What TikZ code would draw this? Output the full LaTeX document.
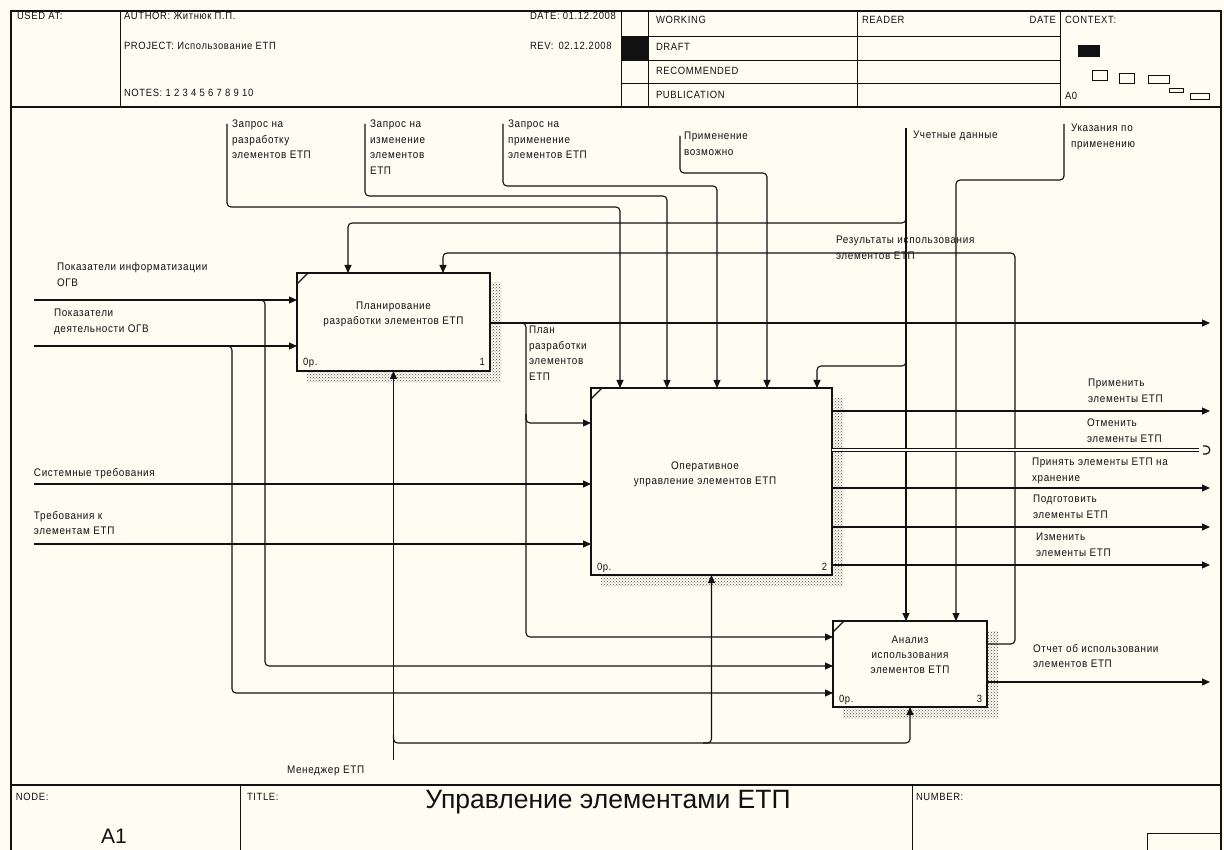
\documentclass[tikz,border=0pt]{standalone}
\usepackage{fontspec}
\setmainfont{Liberation Sans}
\newfontfamily\lblfont[LetterSpace=6,FakeStretch=0.9]{Liberation Sans}
\usetikzlibrary{arrows.meta,patterns}
\definecolor{paper}{RGB}{255,253,242}
\definecolor{ink}{RGB}{17,17,17}

\begin{document}
\begin{tikzpicture}[x=1pt,y=-1pt,
  every node/.style={inner sep=0pt,outer sep=0pt,text=ink},
  frameline/.style={draw=ink,line width=1.3pt},
  gridline/.style={draw=ink,line width=0.9pt},
  flow/.style={draw=ink,line width=1.1pt,rounded corners=4pt},
  arr/.style={flow,-{Triangle[length=8pt,width=7pt]}},
  tunnel/.style={draw=ink,line width=1.2pt,double=paper,double distance=1.6pt},
  lbl/.style={anchor=north west,align=left,font=\lblfont\fontsize{11}{15.5}\selectfont},
  hdr/.style={anchor=west,font=\lblfont\fontsize{10.5}{12}\selectfont},
  func/.style={draw=ink,line width=2.2pt,fill=paper,anchor=north west},
  functext/.style={align=center,font=\lblfont\fontsize{11}{15}\selectfont},
  cost/.style={font=\lblfont\fontsize{10.5}{12}\selectfont},
  shade/.style={pattern=crosshatch dots,pattern color=ink!75},
  cornermark/.style={draw=ink,line width=1.3pt},
]
% sheet
\fill[paper] (0,0) rectangle (1224,850);
\useasboundingbox (0,0) rectangle (1224,850);

% outer frame, header and footer rules
\draw[frameline] (11,850) -- (11,11) -- (1221,11) -- (1221,850);
\draw[frameline] (11,107) -- (1221,107);
\draw[frameline] (11,785) -- (1221,785);
\draw[gridline] (120,11) -- (120,107);
\draw[gridline] (621,11) -- (621,107);
\draw[gridline] (648,11) -- (648,107);
\draw[gridline] (857,11) -- (857,107);
\draw[gridline] (1060,11) -- (1060,107);
\draw[gridline] (621,36) -- (1060,36);
\draw[gridline] (621,60) -- (1060,60);
\draw[gridline] (621,83) -- (1060,83);
\fill[ink] (621,36) rectangle (648,60);
\draw[gridline] (240,785) -- (240,850);
\draw[gridline] (912,785) -- (912,850);
\draw[gridline] (1147,850) -- (1147,833) -- (1221,833);

% context sketch
\fill[ink] (1078,45) rectangle (1100,57);
\draw[gridline] (1092,70) rectangle (1107,80);
\draw[gridline] (1119,73) rectangle (1134,83);
\draw[gridline] (1148,75) rectangle (1169,83);
\draw[gridline] (1169,88) rectangle (1183,92);
\draw[gridline] (1190,93) rectangle (1209,99);

% header texts
\node[hdr] (usedat) at (17,16) {USED AT:};
\node[hdr] (author) at (124,16) {AUTHOR: Житнюк П.П.};
\node[hdr] (date) at (530,16) {DATE: 01.12.2008};
\node[hdr] (project) at (124,46) {PROJECT: Использование ЕТП};
\node[hdr] (rev) at (530,46) {REV:\hspace{5pt}02.12.2008};
\node[hdr] (notes) at (124,93) {NOTES: 1 2 3 4 5 6 7 8 9 10};
\node[hdr] (working) at (656,20) {WORKING};
\node[hdr] (draft) at (656,47) {DRAFT};
\node[hdr] (recommended) at (656,71) {RECOMMENDED};
\node[hdr] (publication) at (656,95) {PUBLICATION};
\node[hdr] (reader) at (862,20) {READER};
\node[hdr,anchor=east] (rdate) at (1056,20) {DATE};
\node[hdr] (context) at (1065,20) {CONTEXT:};
\node[hdr] (a0) at (1065,96) {A0};

% footer texts
\node[hdr] (nodelbl) at (16,797) {NODE:};
\node[hdr] (titlelbl) at (247,797) {TITLE:};
\node[hdr] (numlbl) at (916,797) {NUMBER:};
\node[font=\fontsize{26.5}{30}\selectfont] (title) at (608,802) {Управление элементами ЕТП};
\node[font=\fontsize{21}{25}\selectfont] (nodeid) at (114,836) {A1};

% shadows of the function boxes
\fill[shade] (307,283) rectangle (501,382);
\fill[shade] (601,398) rectangle (843,586);
\fill[shade] (843,631) rectangle (998,718);

% function boxes
\node[func,minimum width=193pt,minimum height=98pt] (b1) at (297,273) {};
\node[func,minimum width=241pt,minimum height=187pt] (b2) at (591,388) {};
\node[func,minimum width=154pt,minimum height=86pt] (b3) at (833,621) {};
\foreach \b in {b1,b2,b3}
  \draw[cornermark] ([yshift=-11pt]\b.north west) -- ([xshift=11pt]\b.north west);

\node[functext] (b1t) at (393.5,314) {Планирование\\разработки элементов ЕТП};
\node[functext] (b2t) at (705,474) {Оперативное\\управление элементов ЕТП};
\node[functext] (b3t) at (910,655) {Анализ\\использования\\элементов ЕТП};

\node[cost,anchor=base west] (b1c) at ([xshift=6pt,yshift=5pt]b1.south west) {0р.};
\node[cost,anchor=base east] (b1n) at ([xshift=-5pt,yshift=5pt]b1.south east) {1};
\node[cost,anchor=base west] (b2c) at ([xshift=6pt,yshift=5pt]b2.south west) {0р.};
\node[cost,anchor=base east] (b2n) at ([xshift=-5pt,yshift=5pt]b2.south east) {2};
\node[cost,anchor=base west] (b3c) at ([xshift=6pt,yshift=5pt]b3.south west) {0р.};
\node[cost,anchor=base east] (b3n) at ([xshift=-5pt,yshift=5pt]b3.south east) {3};

% free ends of boundary arrows
\coordinate (inInfo) at (34,300);
\coordinate (inAct) at (34,346);
\coordinate (inSys) at (34,484);
\coordinate (inReq) at (34,544);
\coordinate (ctDev) at (227,124);
\coordinate (ctChg) at (365,124);
\coordinate (ctUse) at (503,124);
\coordinate (ctOk) at (680,136);
\coordinate (ctAcc) at (906,128);
\coordinate (ctGuide) at (1064,124);
\coordinate (mgr) at (b1.south |- 0,760);
\coordinate (outPlan) at (1210,323);
\coordinate (outApply) at (1210,411);
\coordinate (outCancel) at (1199,450);
\coordinate (outStore) at (1210,488);
\coordinate (outPrep) at (1210,527);
\coordinate (outEdit) at (1210,565);
\coordinate (outReport) at (1210,682);

% inputs
\draw[arr] (inInfo) -- (inInfo -| b1.west);
\draw[arr] (inAct) -- (inAct -| b1.west);
\draw[arr] (inSys) -- (inSys -| b2.west);
\draw[arr] (inReq) -- (inReq -| b2.west);
\draw[arr] (259,300) -- (265,300) -- (265,666) -- (b3.west |- 0,666);
\draw[arr] (226,346) -- (232,346) -- (232,693) -- (b3.west |- 0,693);

% plan of development
\draw[arr] (b1.east |- 0,323) -- (outPlan);
\draw[arr] (519,323) -- (526,323) -- (526,637) -- (b3.west |- 0,637);
\draw[arr] (526,414) -- (526,423) -- (b2.west |- 0,423);

% controls
\draw[arr] (ctDev) -- (227,207) -- (620,207) -- (b2.north -| 620,0);
\draw[arr] (ctChg) -- (365,196) -- (667,196) -- (b2.north -| 667,0);
\draw[arr] (ctUse) -- (503,186) -- (717,186) -- (b2.north -| 717,0);
\draw[arr] (ctOk) -- (680,173) -- (767,173) -- (b2.north -| 767,0);
\draw[arr] (ctAcc) -- (b3.north -| 906,0);
\draw[arr] (906,214) -- (906,223) -- (348,223) -- (b1.north -| 348,0);
\draw[arr] (906,357) -- (906,366) -- (817,366) -- (b2.north -| 817,0);
\draw[arr] (ctGuide) -- (1064,180) -- (956,180) -- (b3.north -| 956,0);

% feedback of usage results
\draw[arr] (b3.east |- 0,644) -- (1015,644) -- (1015,253) -- (443,253) -- (b1.north -| 443,0);

% mechanisms
\draw[arr] (mgr) -- (b1.south);
\draw[arr] (b1.south |- 0,735) -- (b1.south |- 0,743) -- (b3.south |- 0,743) -- (b3.south);
\draw[arr] (703,743) -- (b2.south |- 0,743) -- (b2.south);

% outputs
\draw[arr] (b2.east |- 0,411) -- (outApply);
\draw[arr] (b2.east |- 0,488) -- (outStore);
\draw[arr] (b2.east |- 0,527) -- (outPrep);
\draw[arr] (b2.east |- 0,565) -- (outEdit);
\draw[arr] (b3.east |- 0,682) -- (outReport);
\draw[tunnel] (b2.east |- 0,450) -- (outCancel);
\draw[draw=ink,line width=1.2pt] (1203,446) -- (1206,446) .. controls (1211,446) and (1211,454) .. (1206,454) -- (1203,454);

% arrow labels
\node[lbl] (lDev) at (232,120) {Запрос на\\разработку\\элементов ЕТП};
\node[lbl] (lChg) at (370,120) {Запрос на\\изменение\\элементов\\ЕТП};
\node[lbl] (lUse) at (508,120) {Запрос на\\применение\\элементов ЕТП};
\node[lbl] (lOk) at (684,132) {Применение\\возможно};
\node[lbl] (lAcc) at (913,131) {Учетные данные};
\node[lbl] (lGuide) at (1071,124) {Указания по\\применению};
\node[lbl] (lRes) at (836,236) {Результаты использования\\элементов ЕТП};
\node[lbl] (lInfo) at (57,263) {Показатели информатизации\\ОГВ};
\node[lbl] (lAct) at (54,309) {Показатели\\деятельности ОГВ};
\node[lbl] (lPlan) at (529,326) {План\\разработки\\элементов\\ЕТП};
\node[lbl] (lSys) at (34,468) {Системные требования};
\node[lbl] (lReq) at (34,511) {Требования к\\элементам ЕТП};
\node[lbl] (lApply) at (1088,379) {Применить\\элементы ЕТП};
\node[lbl] (lCancel) at (1087,419) {Отменить\\элементы ЕТП};
\node[lbl] (lStore) at (1032,458) {Принять элементы ЕТП на\\хранение};
\node[lbl] (lPrep) at (1033,495) {Подготовить\\элементы ЕТП};
\node[lbl] (lEdit) at (1036,533) {Изменить\\элементы ЕТП};
\node[lbl] (lReport) at (1033,644) {Отчет об использовании\\элементов ЕТП};
\node[lbl] (lMgr) at (287,766) {Менеджер ЕТП};
\end{tikzpicture}
\end{document}
